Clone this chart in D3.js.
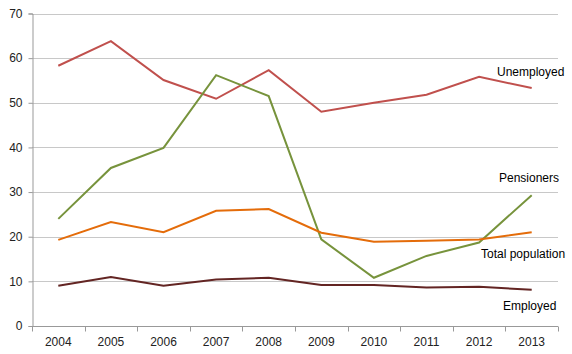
<!DOCTYPE html>
<html>
<head>
<meta charset="utf-8">
<script src="https://cdn.jsdelivr.net/npm/d3@7"></script>
<style>
  body { margin: 0; background: #fff; }
  text { font-family: "Liberation Sans", Arial, sans-serif; }
</style>
</head>
<body>
<div id="chart"></div>
<script>
// values
const years = ['2004', '2005', '2006', '2007', '2008', '2009', '2010', '2011', '2012', '2013'];
const unemployed = [58.3, 63.8, 55.1, 50.9, 57.3, 48.0, 50.0, 51.8, 55.8, 53.3];
const pensioners = [24.0, 35.4, 39.9, 56.2, 51.5, 19.4, 10.8, 15.7, 18.7, 29.3];
const totalPopulation = [19.3, 23.3, 21.0, 25.8, 26.2, 20.9, 18.9, 19.1, 19.4, 21.0];
const employed = [9.0, 11.0, 9.0, 10.4, 10.8, 9.2, 9.2, 8.6, 8.8, 8.1];
const yTicks = [0, 10, 20, 30, 40, 50, 60, 70];

const series = [
  { name: 'Unemployed', values: unemployed, color: '#c0504d', lx: 497, ly: 76 },
  { name: 'Pensioners', values: pensioners, color: '#77933c', lx: 499, ly: 182 },
  { name: 'Total population', values: totalPopulation, color: '#e46c0a', lx: 481, ly: 258 },
  { name: 'Employed', values: employed, color: '#632523', lx: 503, ly: 310 }
];

let w = 572;
let h = 354;
let margin = { left: 32, right: 14, top: 13.5, bottom: 28 };

let svg = d3.select('#chart')
  .append('svg')
  .attr('width', w)
  .attr('height', h);

let x = d3.scaleBand()
  .domain(years)
  .range([margin.left, w - margin.right]);

let y = d3.scaleLinear()
  .domain([0, 70])
  .range([h - margin.bottom, margin.top]);

// gridlines
svg.append('g')
  .selectAll('line')
  .data(yTicks.slice(1))
  .enter()
  .append('line')
  .attr('x1', margin.left)
  .attr('x2', w - margin.right)
  .attr('y1', d => Math.round(y(d)) + 0.5)
  .attr('y2', d => Math.round(y(d)) + 0.5)
  .attr('stroke', '#c8c8c8')
  .attr('stroke-width', 1);

// y axis
let yAxis = svg.append('g')
  .attr('transform', `translate(${margin.left + 0.5},0)`)
  .call(d3.axisLeft(y).tickValues(yTicks).tickSize(4).tickPadding(6));
yAxis.select('.domain').attr('stroke', '#999');
yAxis.selectAll('.tick line').attr('stroke', '#999');
yAxis.selectAll('text').attr('font-size', 12).attr('fill', '#222')
  .style('font-family', '"Liberation Sans", Arial, sans-serif');

// x axis, ticks between categories
let xAxis = svg.append('g')
  .attr('transform', `translate(0,${Math.round(y(0)) + 0.5})`);
xAxis.append('line')
  .attr('x1', margin.left)
  .attr('x2', w - margin.right)
  .attr('stroke', '#999');
xAxis.selectAll('.tk')
  .data(years.concat(['end']))
  .enter()
  .append('line')
  .attr('x1', (d, i) => Math.round(margin.left + i * x.bandwidth()) + 0.5)
  .attr('x2', (d, i) => Math.round(margin.left + i * x.bandwidth()) + 0.5)
  .attr('y1', 0)
  .attr('y2', 5)
  .attr('stroke', '#999');
xAxis.selectAll('text')
  .data(years)
  .enter()
  .append('text')
  .attr('x', d => x(d) + x.bandwidth() / 2)
  .attr('y', 19)
  .attr('text-anchor', 'middle')
  .attr('font-size', 12)
  .attr('fill', '#222')
  .text(d => d);

let line = d3.line()
  .x((d, i) => x(years[i]) + x.bandwidth() / 2)
  .y(d => y(d));

svg.selectAll('path.series')
  .data(series)
  .enter()
  .append('path')
  .attr('class', 'series')
  .attr('d', d => line(d.values))
  .attr('fill', 'none')
  .attr('stroke', d => d.color)
  .attr('stroke-width', 2);

svg.selectAll('text.label')
  .data(series)
  .enter()
  .append('text')
  .attr('class', 'label')
  .attr('x', d => d.lx)
  .attr('y', d => d.ly)
  .attr('font-size', 12)
  .attr('fill', '#000')
  .text(d => d.name);
</script>
</body>
</html>
